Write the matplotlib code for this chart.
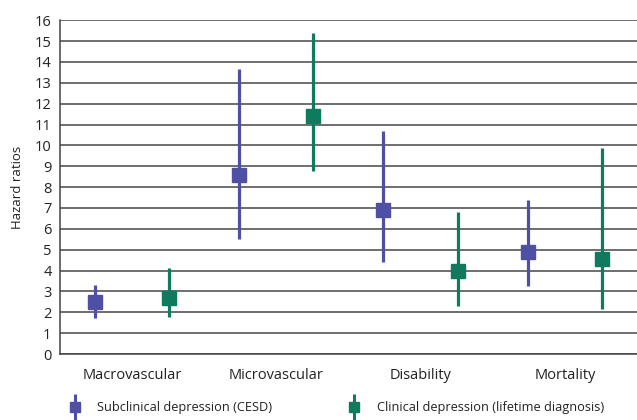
import numpy as np
import matplotlib
matplotlib.use("Agg")
import matplotlib.pyplot as plt
from matplotlib.lines import Line2D
from matplotlib.legend_handler import HandlerTuple

# ---- data ----
categories = ["Macrovascular", "Microvascular", "Disability", "Mortality"]
sub_hr = [2.48, 8.57, 6.90, 4.88]
sub_low = [1.72, 5.50, 4.40, 3.26]
sub_high = [3.30, 13.65, 10.68, 7.38]
clin_hr = [2.68, 11.40, 3.97, 4.55]
clin_low = [1.77, 8.77, 2.30, 2.15]
clin_high = [4.12, 15.40, 6.80, 9.87]
series_names = ["Subclinical depression (CESD)", "Clinical depression (lifetime diagnosis)"]

PURPLE = "#4F4FA3"
GREEN = "#0F7A5E"

plt.rcParams["font.family"] = ["Open Sans", "DejaVu Sans"]

fig = plt.figure(figsize=(6.37, 4.2), dpi=100)
ax = fig.add_axes([0.094, 0.157, 0.906, 0.795])

x = np.arange(len(categories))
off = 0.257


def plot_series(xs, hr, low, high, color):
    hr = np.array(hr)
    err = [hr - np.array(low), np.array(high) - hr]
    ax.errorbar(xs, hr, yerr=err, fmt="s", color=color, ecolor=color,
                markersize=9.5, elinewidth=2.3, capsize=0, zorder=3)
    # legend glyph: small square with a vertical bar through it
    bar = Line2D([], [], color=color, marker="|", linestyle="none",
                 markersize=19, markeredgewidth=2.2)
    sq = Line2D([], [], color=color, marker="s", linestyle="none", markersize=7)
    return (bar, sq)


h1 = plot_series(x - off, sub_hr, sub_low, sub_high, PURPLE)
h2 = plot_series(x + off, clin_hr, clin_low, clin_high, GREEN)

ax.set_xlim(-0.5, 3.5)
ax.set_ylim(0, 16)
ax.set_yticks(range(0, 17))
ax.yaxis.grid(True, color="#555555", linewidth=1.2)
ax.set_axisbelow(True)
ax.set_xticks(x)
ax.set_xticklabels(categories)
ax.tick_params(axis="both", length=0, labelsize=10.5, colors="#222222")
ax.tick_params(axis="x", pad=10)
ax.tick_params(axis="y", pad=6)
for s in ["top", "right"]:
    ax.spines[s].set_visible(False)
for s in ["left", "bottom"]:
    ax.spines[s].set_color("#444444")
    ax.spines[s].set_linewidth(1.1)

ax.set_ylabel("Hazard ratios", fontsize=9.5, color="#222222", labelpad=8)

fig.legend(handles=[h1, h2], labels=series_names, loc="center left",
           bbox_to_anchor=(0.100, 0.029), ncol=2, frameon=False, fontsize=9.2,
           handlelength=0.9, handletextpad=1.3, columnspacing=6.0, borderaxespad=0,
           handler_map={tuple: HandlerTuple(ndivide=1)}, labelcolor="#222222")

fig.savefig("out.png", dpi=100, facecolor="white")
